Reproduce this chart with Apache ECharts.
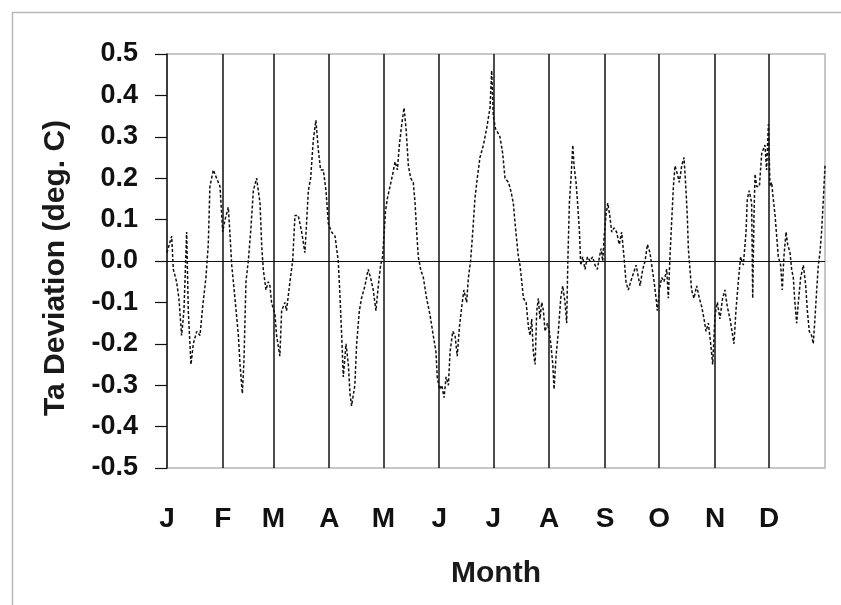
<!DOCTYPE html>
<html><head><meta charset="utf-8">
<script src="https://cdn.jsdelivr.net/npm/echarts@6/dist/echarts.min.js"></script>
<style>html,body{margin:0;padding:0;background:#fff}#c{width:841px;height:605px}</style>
</head><body><div id="c"></div>
<script>
const monthLabels = ['J','F','M','A','M','J','J','A','S','O','N','D'];
const monthStarts = [0,31,59,90,120,151,181,212,243,273,304,334];
const yMin = -0.5, yMax = 0.5, yStep = 0.1;

const days = [
0,2.6,3.5,5.3,6.6,8.1,9.4,10.9,11.8,13.3,14.6,16.5,18.3,19.8,21.6,22.9,23.8,25.7,27.5,29.4,
30.9,32.2,34,35,35.9,37.7,39.6,40.5,41.8,42.7,43.8,45.1,46.4,47.9,49.7,51.6,52.5,53.4,54.9,56.2,
57.1,58,59.9,60.8,62.6,63.6,65.4,66.3,68.2,69.7,71,72.8,74.7,76.5,77.4,78.4,79.7,81.1,82.6,83.9,
85.2,86.7,88.2,89.5,91.3,93.2,95,95.9,96.9,97.8,99.3,100.6,101.5,102.4,104.2,105.2,106.7,107.9,109.8,111.6,
112.9,114.4,115.9,117.2,118.5,119.6,120.5,121.2,122.2,123.7,125.2,126.5,127.8,128.9,130.2,131.5,132.6,133.9,135.2,136.6,
137.6,138.5,139.4,140.7,142.2,144,145.9,147.7,149.2,149.9,151.1,152.4,153.7,154.8,156.1,157,158.5,159.8,161,162.2,
163.5,164.7,166.2,167.2,168.4,169.6,170.8,172.1,173.6,175.5,177.3,179.2,180.1,181,182.2,183.5,184.7,186.2,187.5,189.4,
190.7,192.1,193.1,194,194.9,195.8,196.8,197.7,199.2,200.5,201.4,202.3,203.2,204.2,205.1,206,206.9,207.9,208.8,209.7,
211,212.1,212.9,214,214.7,215.8,217.1,218.4,219.5,220.8,221.7,222.3,223.2,224.1,225.1,225.8,226.9,227.6,228.8,229.5,
230.6,231.9,233.2,234.7,236.1,237.4,238.7,239.9,240.8,241.7,242.5,243.5,244.5,245.6,246.7,248,249.4,250.9,252.2,253.5,
254.6,255.9,257.2,258.7,260.2,261.5,262.4,263.9,265.2,266.5,267.9,269.2,270.2,271.3,272,273.1,274.4,275.7,277.2,278.1,
279,280,280.9,281.8,283.1,284.2,285.5,286.8,287.9,288.6,289.2,290.1,291,292.3,293.8,295.3,296.6,297.9,299,300.3,
301.6,302.7,304,305.3,306.7,308.2,309.5,310.8,312.3,313.8,314.5,315.6,316.9,318.2,319.7,321.2,321.9,323,324.3,324.9,
325.6,326.2,327.1,328.6,329.9,330.8,331.7,332.6,333.6,334.5,335.4,336.3,337.3,338.2,339.1,340.4,341.3,342.2,343.4,344.3,
345.6,346.5,347.4,348.3,349.3,350.2,351.5,353,354.3,355.2,356.3,357.6,358.5,359.4,360.4,361.3,362.2,363.1,364.1,365
];
const deviation = [
0.02,0.06,-0.02,-0.05,-0.09,-0.18,-0.12,0.07,-0.12,-0.25,-0.2,-0.17,-0.18,-0.11,-0.04,0.04,0.18,0.22,0.2,0.18,
0.07,0.1,0.13,0.06,-0.01,-0.09,-0.18,-0.25,-0.32,-0.24,-0.05,0.0,0.07,0.17,0.2,0.14,0.04,-0.02,-0.07,-0.05,
-0.06,-0.1,-0.13,-0.18,-0.23,-0.12,-0.1,-0.12,-0.05,0.0,0.11,0.11,0.07,0.02,0.09,0.17,0.2,0.29,0.34,0.27,
0.22,0.22,0.17,0.09,0.07,0.06,0.0,-0.08,-0.18,-0.28,-0.2,-0.25,-0.32,-0.35,-0.3,-0.2,-0.12,-0.09,-0.06,-0.02,
-0.04,-0.07,-0.12,-0.06,-0.01,0.01,0.07,0.12,0.15,0.18,0.21,0.24,0.22,0.28,0.33,0.37,0.32,0.23,0.2,0.19,
0.14,0.07,0.01,-0.02,-0.04,-0.09,-0.13,-0.18,-0.22,-0.28,-0.31,-0.3,-0.33,-0.28,-0.3,-0.22,-0.17,-0.18,-0.23,-0.16,
-0.11,-0.07,-0.1,-0.04,0.0,0.07,0.15,0.2,0.25,0.28,0.32,0.37,0.46,0.35,0.32,0.31,0.3,0.26,0.2,0.19,
0.17,0.14,0.09,0.05,0.01,-0.01,-0.05,-0.09,-0.1,-0.16,-0.18,-0.14,-0.22,-0.25,-0.12,-0.09,-0.14,-0.1,-0.12,-0.17,
-0.15,-0.17,-0.2,-0.25,-0.31,-0.23,-0.17,-0.09,-0.06,-0.1,-0.15,-0.01,0.14,0.2,0.28,0.23,0.19,0.15,0.07,-0.01,
0.01,-0.02,0.01,0.0,0.01,-0.01,-0.02,0.01,0.03,0.0,0.06,0.11,0.14,0.11,0.07,0.08,0.07,0.04,0.07,0.01,
-0.05,-0.07,-0.05,-0.03,-0.01,-0.04,-0.06,-0.02,0.0,0.04,0.02,-0.02,-0.05,-0.09,-0.12,-0.07,-0.04,-0.05,-0.02,-0.09,
0.01,0.1,0.18,0.23,0.21,0.19,0.23,0.25,0.17,0.11,0.03,-0.02,-0.07,-0.09,-0.06,-0.09,-0.11,-0.14,-0.17,-0.15,
-0.2,-0.25,-0.13,-0.1,-0.14,-0.09,-0.07,-0.11,-0.14,-0.18,-0.2,-0.12,-0.05,0.01,-0.01,0.07,0.15,0.17,0.14,-0.09,
0.11,0.21,0.18,0.18,0.26,0.27,0.28,0.22,0.33,0.18,0.19,0.15,0.11,0.06,0.01,-0.01,-0.07,0.01,0.07,0.04,
0.02,-0.02,-0.04,-0.1,-0.15,-0.1,-0.04,-0.01,-0.06,-0.12,-0.17,-0.18,-0.2,-0.14,-0.07,-0.01,0.02,0.07,0.15,0.23
];

const seriesData = days.map((d, i) => [d, deviation[i]]);
const FONT = '"Liberation Sans", Arial, sans-serif';

const chart = echarts.init(document.getElementById('c'), null, {renderer: 'canvas'});
chart.setOption({
  animation: false,
  backgroundColor: '#fff',
  graphic: [{
    type: 'rect', left: 10, top: 10, silent: true,
    shape: {width: 840, height: 600},
    style: {fill: 'none', stroke: '#b8b8b8', lineWidth: 1.5}
  }],
  grid: {left: 167, right: 16, top: 54, bottom: 137, show: true, borderColor: '#b5b5b5', borderWidth: 1.5, backgroundColor: '#fff'},
  xAxis: {
    type: 'value', min: 0, max: 365,
    name: 'Month', nameLocation: 'middle', nameGap: 91,
    nameTextStyle: {fontFamily: FONT, fontWeight: 'bold', fontSize: 30, color: '#1a1a1a'},
    axisLine: {show: false},
    axisTick: {show: false},
    splitLine: {show: false},
    axisLabel: {
      customValues: monthStarts,
      margin: 37,
      fontFamily: FONT, fontWeight: 'bold', fontSize: 28, color: '#111',
      formatter: v => monthLabels[monthStarts.indexOf(v)] || ''
    }
  },
  yAxis: {
    type: 'value', min: yMin, max: yMax, interval: yStep,
    name: 'Ta Deviation (deg. C)', nameLocation: 'middle', nameGap: 96,
    nameTextStyle: {fontFamily: FONT, fontWeight: 'bold', fontSize: 30, color: '#1a1a1a', padding: [0, 14, 0, 0]},
    axisLine: {show: true, lineStyle: {color: '#111', width: 1.5}},
    axisTick: {show: true, inside: false, length: 12, lineStyle: {color: '#111', width: 1.2}},
    splitLine: {show: false},
    axisLabel: {
      margin: 29, fontFamily: FONT, fontWeight: 'bold', fontSize: 27, color: '#111',
      formatter: v => v.toFixed(1)
    }
  },
  series: [{
    type: 'line',
    data: seriesData,
    showSymbol: false,
    lineStyle: {color: '#111', width: 1.5, type: [3, 2]},
    z: 3,
    markLine: {
      silent: true, symbol: 'none', animation: false,
      label: {show: false},
      lineStyle: {color: '#111', width: 1.5, type: 'solid'},
      data: monthStarts.slice(1).map(m => ({xAxis: m})).concat([{yAxis: 0, lineStyle: {width: 1.2}}])
    }
  }]
});
</script>
</body></html>
